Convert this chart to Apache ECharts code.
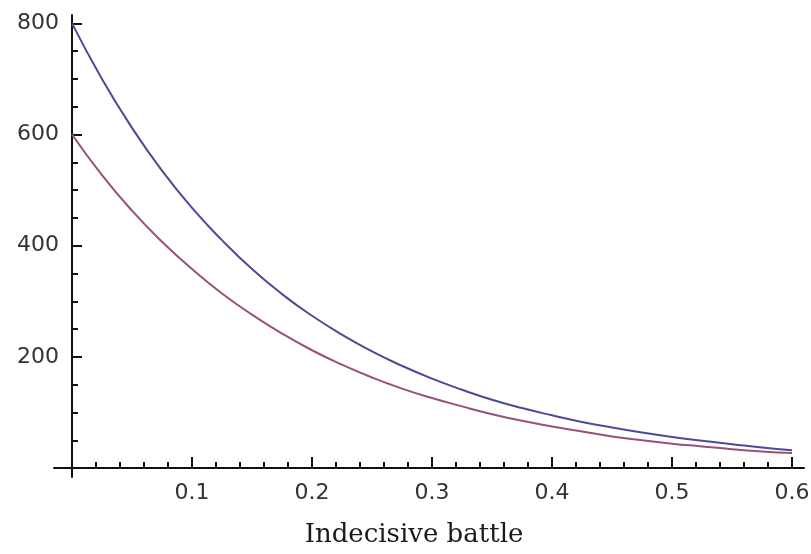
<!DOCTYPE html>
<html>
<head>
<meta charset="utf-8">
<script src="https://cdn.jsdelivr.net/npm/echarts@6/dist/echarts.min.js"></script>
<style>
  html, body { margin: 0; padding: 0; background: #fff; }
  #main { width: 811px; height: 554px; }
</style>
</head>
<body>
<div id="main"></div>
<script>
// time (x) and the two force strengths
var tValues   = [0, 0.025, 0.05, 0.075, 0.1, 0.125, 0.15, 0.175, 0.2, 0.225, 0.25, 0.275, 0.3,
                 0.325, 0.35, 0.375, 0.4, 0.425, 0.45, 0.475, 0.5, 0.525, 0.55, 0.575, 0.6];
var blueForce = [800, 700, 612, 535, 468, 410, 358, 313, 274, 240, 210, 184, 161,
                 141, 123, 108, 95, 83, 73, 64, 56, 49, 43, 37, 32];
var redForce  = [600, 527, 463, 407, 358, 314, 276, 242, 212, 186, 163, 143, 126,
                 111, 97, 85, 75, 66, 57, 50, 44, 39, 34, 30, 27];

var xMajorTicks = [0.1, 0.2, 0.3, 0.4, 0.5, 0.6];
var xMinorTicks = [0.02, 0.04, 0.06, 0.08, 0.12, 0.14, 0.16, 0.18, 0.22, 0.24, 0.26, 0.28,
                   0.32, 0.34, 0.36, 0.38, 0.42, 0.44, 0.46, 0.48, 0.52, 0.54, 0.56, 0.58];
var yMajorTicks = [200, 400, 600, 800];
var yMinorTicks = [50, 100, 150, 250, 300, 350, 450, 500, 550, 650, 700, 750];

var chart = echarts.init(document.getElementById('main'));

function pairs(xs, ys) {
    return xs.map(function (x, i) { return [x, ys[i]]; });
}

var axisLine = { onZero: true, onZeroAxisIndex: 0, lineStyle: { color: '#111', width: 2 } };
var labelFont = { fontFamily: 'DejaVu Sans', fontSize: 22, color: '#333' };

var option = {
    animation: false,
    backgroundColor: '#fff',
    title: {
        text: 'Indecisive battle',
        left: 414,
        textAlign: 'center',
        top: 522,
        padding: 0,
        textStyle: { fontFamily: 'DejaVu Serif', fontSize: 26, fontWeight: 'normal', color: '#1a1a1a' }
    },
    grid: { left: 54, right: 7, top: 15, bottom: 77, containLabel: false, outerBoundsMode: 'none' },
    xAxis: [
        {
            type: 'value', position: 'bottom', min: -0.015, max: 0.61,
            axisLine: axisLine,
            splitLine: { show: false },
            axisTick: { inside: true, length: 11, customValues: xMajorTicks, lineStyle: { color: '#111', width: 2 } },
            // labels sit on the grid edge, not on the zero line, so margins are measured from there
            axisLabel: Object.assign({ customValues: xMajorTicks, margin: 5 }, labelFont)
        },
        {
            type: 'value', position: 'bottom', min: -0.015, max: 0.61,
            axisLine: { show: false, onZero: true, onZeroAxisIndex: 0 },
            splitLine: { show: false },
            axisTick: { inside: true, length: 6, customValues: xMinorTicks, lineStyle: { color: '#111', width: 2 } },
            axisLabel: { show: false }
        }
    ],
    yAxis: [
        {
            type: 'value', position: 'left', min: -16, max: 815,
            axisLine: axisLine,
            splitLine: { show: false },
            axisTick: { inside: true, length: 10, customValues: yMajorTicks, lineStyle: { color: '#111', width: 2 } },
            axisLabel: Object.assign({ customValues: yMajorTicks, margin: -5 }, labelFont)
        },
        {
            type: 'value', position: 'left', min: -16, max: 815,
            axisLine: { show: false, onZero: true, onZeroAxisIndex: 0 },
            splitLine: { show: false },
            axisTick: { inside: true, length: 6, customValues: yMinorTicks, lineStyle: { color: '#111', width: 2 } },
            axisLabel: { show: false }
        }
    ],
    series: [
        {
            name: 'blue', type: 'line', xAxisIndex: 0, yAxisIndex: 0,
            data: pairs(tValues, blueForce),
            smooth: true, showSymbol: false,
            lineStyle: { color: '#4b4b98', width: 2 }
        },
        {
            name: 'red', type: 'line', xAxisIndex: 0, yAxisIndex: 0,
            data: pairs(tValues, redForce),
            smooth: true, showSymbol: false,
            lineStyle: { color: '#99507a', width: 2 }
        }
    ]
};

chart.setOption(option);
</script>
</body>
</html>
